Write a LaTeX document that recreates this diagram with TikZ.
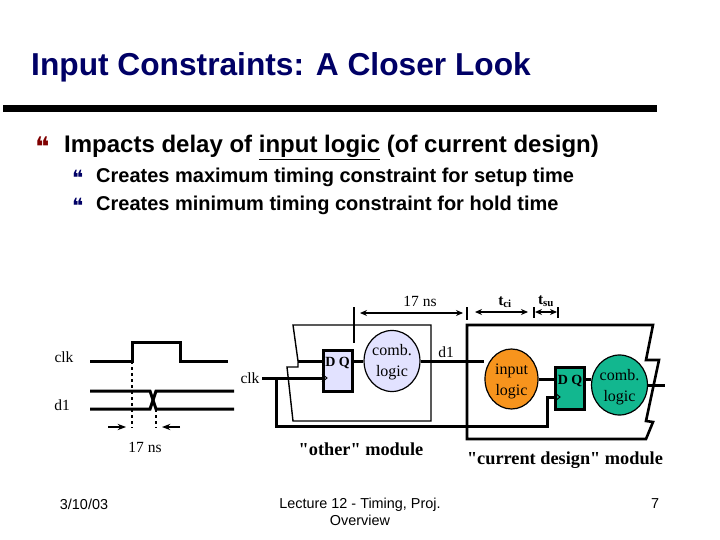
\documentclass[tikz,border=0pt]{standalone}
\usepackage{fontspec}
\setsansfont{Liberation Sans}
\newfontfamily\serifplain{Liberation Serif}
\newfontfamily\bulletfont{DejaVu Sans}
\usetikzlibrary{arrows.meta,positioning,calc,shapes.geometric}
\definecolor{titleblue}{HTML}{000066}
\definecolor{bulletred}{HTML}{800000}
\definecolor{lav}{HTML}{E2E2FF}
\definecolor{orangefill}{HTML}{F7941D}
\definecolor{tealfill}{HTML}{12B78F}

\begin{document}
\begin{tikzpicture}[x=1pt,y=-1pt,>=Stealth,font=\serifplain\fontsize{15}{17}\selectfont]
\tikzstyle{slidetxt}=[anchor=base west,inner sep=0pt,font=\sffamily\bfseries\fontsize{20}{24}\selectfont]
\tikzstyle{foot}=[inner sep=0pt,align=center,font=\sffamily\fontsize{14.4}{17}\selectfont]
\tikzstyle{lbl}=[inner sep=0pt,font=\serifplain\fontsize{15.5}{17}\selectfont]
\tikzstyle{dqlbl}=[inner sep=0pt,anchor=base,font=\serifplain\bfseries\fontsize{14}{16}\selectfont]
\tikzstyle{modlbl}=[inner sep=0pt,font=\serifplain\bfseries\fontsize{18.3}{20}\selectfont]
\tikzstyle{ff}=[draw,line width=3pt,inner sep=0pt,minimum width=29pt,minimum height=41pt]
\tikzstyle{blob}=[draw,ellipse,inner sep=0pt,line width=1.2pt,align=center,font=\serifplain\fontsize{16}{21}\selectfont]
\tikzstyle{wire}=[line width=3pt]
\tikzstyle{sig}=[line width=3pt]
\tikzstyle{dim}=[line width=1.2pt,<->,>={Stealth[length=7pt,width=6pt]}]
\tikzstyle{tick}=[line width=1.2pt]
\useasboundingbox (0,0) rectangle (720,540);
\fill[white] (0,0) rectangle (720,540);
% title and bullets
\node[anchor=base west,inner sep=0pt,text=titleblue,font=\sffamily\bfseries\fontsize{31.7}{36}\selectfont] (title) at (31,76) {Input Constraints: A Closer Look};
\fill[black] (3,105) rectangle (657,112);
\node[anchor=base west,inner sep=0pt,text=bulletred,font=\bulletfont\fontsize{27}{30}\selectfont] (b0) at (35,157) {❝};
\node[slidetxt,font=\sffamily\bfseries\fontsize{24}{28}\selectfont] (t0) at (64,153) {Impacts delay of \underline{input logic} (of current design)};
\node[anchor=base west,inner sep=0pt,text=titleblue,font=\bulletfont\fontsize{21}{24}\selectfont] (b1) at (72,186) {❝};
\node[slidetxt] (t1) at (96,183) {Creates maximum timing constraint for setup time};
\node[anchor=base west,inner sep=0pt,text=titleblue,font=\bulletfont\fontsize{21}{24}\selectfont] (b2) at (72,214) {❝};
\node[slidetxt] (t2) at (96,211) {Creates minimum timing constraint for hold time};
% waveforms
\node[lbl] (clkw) at (64,357) {clk};
\node[lbl] (d1w) at (62,405) {d1};
\draw[sig] (90,361) -- (132,361) -- (132,342) -- (180,342) -- (180,361) -- (228,361);
\draw[sig] (90,391) -- (150,391) -- (156,409) -- (234,409);
\draw[sig] (90,409) -- (150,409) -- (156,391) -- (234,391);
\draw[line width=1.6pt,dashed] (132,361) -- (132,428);
\draw[line width=1.6pt,dashed] (156,409) -- (156,428);
\coordinate (sl) at (108,427); \coordinate (sr) at (180,427);
\coordinate (el) at (126,427); \coordinate (er) at (162,427);
\draw[tick,->] (sl) -- (el); \draw[tick,->] (sr) -- (er);
\node[lbl] (ns1) at (145,447) {17 ns};
% other module
\draw[line width=1.4pt] (293,325) -- (431,325) -- (431,421) -- (293,421) -- (287,367) -- (298,367) -- (298,361) -- cycle;
\node[ff,fill=lav] (ffa) at (337.5,370.5) {};
\node[dqlbl] (dqa) at (337.5,366) {D Q};
\node[blob,fill=lav,minimum width=53pt,minimum height=61pt] (ca) at (392,361) {\rule{0pt}{14pt}comb.\\ logic};
\node[lbl] (clka) at (250,378) {clk};
\coordinate (da) at (298,361); \coordinate (clkin) at (262,378); \coordinate (clkb) at (276,378);
\draw[wire] (da) -- (da-|ffa.west);
\draw[wire] (ca.west) -- (ffa.east|-ca.west);
\draw[wire] (clkin) -- (ffa.west|-clkin);
\draw[line width=1pt] (322,374) -- (327,378) -- (322,382);
\node[lbl] (d1o) at (446,352) {d1};
\node[modlbl] (om) at (361,449) {"other" module};
% current design module
\draw[line width=2.6pt] (467,325) -- (653,325) -- (646,360) -- (659,360) -- (646,421) -- (653,422) -- (646,439) -- (467,439) -- cycle;
\node[blob,fill=orangefill,minimum width=53pt,minimum height=60pt] (cb) at (511.5,379) {\rule{0pt}{16pt}input\\ logic};
\node[ff,fill=tealfill,minimum height=42pt] (ffb) at (570,388.5) {};
\node[dqlbl] (dqb) at (570,384) {D Q};
\node[blob,fill=tealfill,minimum width=53pt,minimum height=60pt] (cc) at (619.5,385) {\rule{0pt}{16pt}comb.\\ logic};
\draw[wire] (ca.east) -- (cb.west|-ca.east);
\draw[wire] (cb.east) -- (ffb.west|-cb.east);
\draw[wire] (ffb.east|-cb.east) -- (cc.west|-cb.east);
\coordinate (ob) at (665,385);
\draw[wire] (cc.east) -- (ob);
\draw[wire] (clkb) -- (276,426) -- (547,426) -- (547,397) -- (ffb.west|-0,397);
\draw[line width=1pt] (555,393) -- (560,397) -- (555,401);
\node[modlbl] (cm) at (565,460) {"current design" module};
% dimension marks
\node[lbl] (ns2) at (420,301) {17 ns};
\coordinate (t1a) at (354,307); \coordinate (t1b) at (354,343);
\coordinate (t2a) at (467,307); \coordinate (t2b) at (467,320);
\coordinate (t3a) at (534,307); \coordinate (t3b) at (534,318);
\coordinate (t4a) at (558,307); \coordinate (t4b) at (558,318);
\draw[tick] (t1a) -- (t1b); \draw[tick] (t2a) -- (t2b); \draw[tick] (t3a) -- (t3b); \draw[tick] (t4a) -- (t4b);
\draw[dim] (360,313) -- (463,313);
\draw[dim] (475,312) -- (528,312);
\draw[dim] (535,312) -- (557,312);
\node[lbl,font=\serifplain\bfseries\fontsize{15.5}{17}\selectfont] (tci) at (505,302) {t\textsubscript{ci}};
\node[lbl,font=\serifplain\bfseries\fontsize{15.5}{17}\selectfont] (tsu) at (546,301) {t\textsubscript{su}};
% footer
\node[foot] (date) at (84,504) {3/10/03};
\node[foot,anchor=north] (lect) at (360,498) {Lecture 12 - Timing, Proj.\\ Overview};
\node[foot] (pg) at (655,504) {7};
\end{tikzpicture}
\end{document}
